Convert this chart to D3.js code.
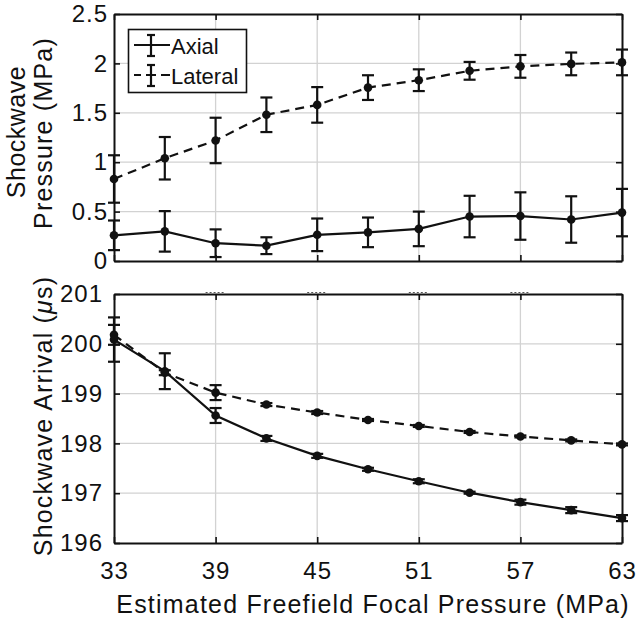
<!DOCTYPE html>
<html><head><meta charset="utf-8">
<script src="https://cdn.jsdelivr.net/npm/d3@7"></script>
<style>
body{margin:0;background:#fff;}
text{font-family:"Liberation Sans",Arial,sans-serif;fill:#111;}
</style></head>
<body><svg id="c" width="643" height="628"></svg>
<script>
const xVals = [33,36,39,42,45,48,51,54,57,60,63];
const topAxial = [0.26,0.30,0.18,0.155,0.265,0.29,0.325,0.45,0.455,0.42,0.49];
const topAxialErr = [0.15,0.205,0.14,0.085,0.165,0.15,0.175,0.21,0.24,0.235,0.24];
const topLateral = [0.83,1.04,1.22,1.48,1.58,1.755,1.83,1.925,1.97,1.995,2.01];
const topLateralErr = [0.24,0.215,0.23,0.175,0.18,0.125,0.11,0.09,0.115,0.115,0.13];
const botAxial = [200.085,199.45,198.56,198.10,197.75,197.48,197.24,197.01,196.82,196.66,196.50];
const botAxialErr = [0.445,0.36,0.15,0.05,0.04,0.03,0.04,0.02,0.05,0.06,0.06];
const botLateral = [200.18,199.42,199.02,198.78,198.62,198.47,198.35,198.23,198.14,198.06,197.98];
const botLateralErr = [0.2,0.05,0.15,0.03,0.03,0.02,0.02,0.02,0.02,0.02,0.02];
const xTicks = [33,39,45,51,57,63];
const topYTicks = [0,0.5,1,1.5,2,2.5];
const botYTicks = [196,197,198,199,200,201];

const svg = d3.select("#c");
const x = d3.scaleLinear().domain([33,63]).range([114,622]);
const yT = d3.scaleLinear().domain([0,2.5]).range([261,14]);
const yB = d3.scaleLinear().domain([196,201]).range([543,294]);

function panel(y, yTicks, yFmt, showX, labelX){
  const [y0,y1] = y.range(); // bottom, top
  const L=114,R=622;
  const g = svg.append("g");
  // grid
  g.append("g").selectAll("line").data(xTicks.slice(1,-1)).join("line")
    .attr("x1",d=>x(d)).attr("x2",d=>x(d)).attr("y1",y1).attr("y2",y0)
    .attr("stroke","#d2d2d2").attr("stroke-width",1.3);
  g.append("g").selectAll("line").data(yTicks.slice(1,-1)).join("line")
    .attr("y1",d=>y(d)).attr("y2",d=>y(d)).attr("x1",L).attr("x2",R)
    .attr("stroke","#d2d2d2").attr("stroke-width",1.3);
  // axes
  const ax = [
    g.append("g").attr("transform",`translate(${L},0)`).call(d3.axisLeft(y).tickValues(yTicks).tickFormat(yFmt).tickSizeInner(-6).tickSizeOuter(0).tickPadding(labelX)),
    g.append("g").attr("transform",`translate(${R},0)`).call(d3.axisRight(y).tickValues(yTicks).tickFormat("").tickSizeInner(-6).tickSizeOuter(0)),
    g.append("g").attr("transform",`translate(0,${y0})`).call(d3.axisBottom(x).tickValues(xTicks).tickFormat(showX?d3.format("d"):"").tickSizeInner(-6).tickSizeOuter(0).tickPadding(18.5)),
    g.append("g").attr("transform",`translate(0,${y1})`).call(d3.axisTop(x).tickValues(xTicks).tickFormat("").tickSizeInner(-6).tickSizeOuter(0))
  ];
  ax.forEach(a=>{
    a.select(".domain").attr("stroke","#111").attr("stroke-width",2);
    a.selectAll(".tick line").attr("stroke","#111").attr("stroke-width",1.6);
    a.selectAll(".tick text").attr("font-size",24).attr("letter-spacing","1px")
      .attr("font-family",'"Liberation Sans",Arial,sans-serif').attr("fill","#111");
  });
  return g;
}

function series(g, y, vals, errs, dashed){
  const line = d3.line().x((d,i)=>x(xVals[i])).y(d=>y(d));
  g.append("path").datum(vals).attr("d",line).attr("fill","none")
    .attr("stroke","#111").attr("stroke-width",2.2)
    .attr("stroke-dasharray",dashed?"9,6":null);
  const eb = g.append("g").attr("stroke","#111").attr("stroke-width",2.2);
  vals.forEach((v,i)=>{
    const cx = x(xVals[i]), ya = y(v+errs[i]), yb = y(v-errs[i]);
    eb.append("line").attr("x1",cx).attr("x2",cx).attr("y1",ya).attr("y2",yb);
    eb.append("line").attr("x1",cx-6).attr("x2",cx+6).attr("y1",ya).attr("y2",ya);
    eb.append("line").attr("x1",cx-6).attr("x2",cx+6).attr("y1",yb).attr("y2",yb);
  });
  g.append("g").selectAll("circle").data(vals).join("circle")
    .attr("cx",(d,i)=>x(xVals[i])).attr("cy",d=>y(d)).attr("r",4.3).attr("fill","#111");
}

const fmtTop = d=>String(d);
const gT = panel(yT, topYTicks, fmtTop, false, 6);
series(gT, yT, topLateral, topLateralErr, true);
series(gT, yT, topAxial, topAxialErr, false);

const gB = panel(yB, botYTicks, d3.format("d"), true, 11);
series(gB, yB, botLateral, botLateralErr, true);
series(gB, yB, botAxial, botAxialErr, false);

// faint dotted marks at top of lower panel
svg.append("g").selectAll("line").data(xTicks.slice(1,-1)).join("line")
  .attr("x1",d=>x(d)-10).attr("x2",d=>x(d)+10).attr("y1",292.5).attr("y2",292.5)
  .attr("stroke","#555").attr("stroke-width",1.2).attr("stroke-dasharray","2,2");

// legend
const lg = svg.append("g");
lg.append("rect").attr("x",128.5).attr("y",29.5).attr("width",118).attr("height",63)
  .attr("fill","#fff").attr("stroke","#111").attr("stroke-width",1.6);
function legItem(yc, dashed, label){
  if(dashed){
    lg.append("line").attr("x1",134).attr("x2",141).attr("y1",yc).attr("y2",yc).attr("stroke","#111").attr("stroke-width",2);
    lg.append("line").attr("x1",146).attr("x2",156).attr("y1",yc).attr("y2",yc).attr("stroke","#111").attr("stroke-width",2);
    lg.append("line").attr("x1",161).attr("x2",170).attr("y1",yc).attr("y2",yc).attr("stroke","#111").attr("stroke-width",2);
  } else {
    lg.append("line").attr("x1",134).attr("x2",170).attr("y1",yc).attr("y2",yc).attr("stroke","#111").attr("stroke-width",2);
  }
  const cx=151;
  lg.append("line").attr("x1",cx).attr("x2",cx).attr("y1",yc-10).attr("y2",yc+11).attr("stroke","#111").attr("stroke-width",2.2);
  lg.append("line").attr("x1",cx-4).attr("x2",cx+4).attr("y1",yc-10).attr("y2",yc-10).attr("stroke","#111").attr("stroke-width",2.2);
  lg.append("line").attr("x1",cx-4).attr("x2",cx+4).attr("y1",yc+11).attr("y2",yc+11).attr("stroke","#111").attr("stroke-width",2.2);
  lg.append("text").attr("x",171).attr("y",yc+9).attr("font-size",22).text(label);
}
legItem(45,false,"Axial");
legItem(75,true,"Lateral");

// axis labels
svg.append("text").attr("transform","translate(25,132) rotate(-90)").attr("text-anchor","middle")
  .attr("font-size",25).attr("letter-spacing","0.5px").text("Shockwave");
svg.append("text").attr("transform","translate(52,133) rotate(-90)").attr("text-anchor","middle")
  .attr("font-size",25).attr("letter-spacing","1.2px").text("Pressure (MPa)");
const bl = svg.append("text").attr("transform","translate(52,416) rotate(-90)").attr("text-anchor","middle")
  .attr("font-size",25).attr("letter-spacing","1.2px");
bl.append("tspan").text("Shockwave Arrival (");
bl.append("tspan").attr("font-style","italic").text("\u03bc");
bl.append("tspan").text("s)");
svg.append("text").attr("x",373).attr("y",613).attr("text-anchor","middle")
  .attr("font-size",25).attr("letter-spacing","1.2px").text("Estimated Freefield Focal Pressure (MPa)");
</script></body></html>
